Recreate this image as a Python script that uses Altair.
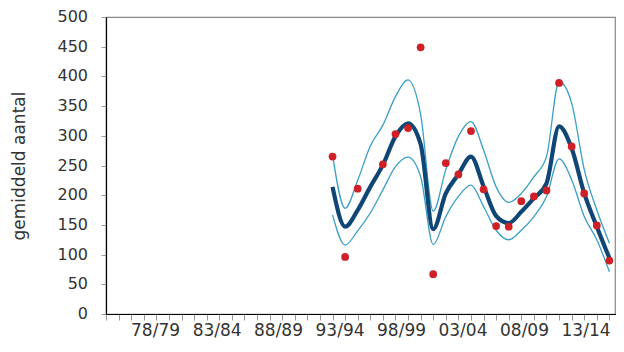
import altair as alt
import pandas as pd

seasons = ["74/75", "75/76", "76/77", "77/78", "78/79", "79/80", "80/81", "81/82",
           "82/83", "83/84", "84/85", "85/86", "86/87", "87/88", "88/89", "89/90",
           "90/91", "91/92", "92/93", "93/94", "94/95", "95/96", "96/97", "97/98",
           "98/99", "99/00", "00/01", "01/02", "02/03", "03/04", "04/05", "05/06",
           "06/07", "07/08", "08/09", "09/10", "10/11", "11/12", "12/13", "13/14",
           "14/15", "15/16"]
labelled = ["78/79", "83/84", "88/89", "93/94", "98/99", "03/04", "08/09", "13/14"]
label_shift = [-1.3, -2.6, -4.2, -5.6, -7.0, -8.5, -9.9, -11.3]
y_ticks = [0, 50, 100, 150, 200, 250, 300, 350, 400, 450, 500]

data_seasons = seasons[18:41]
observed = [265, 96, 211, None, 252, 303, 313, 449, 67, 254, 235, 308, 210,
            148, 147, 190, 198, 208, 389, 282, 203, 149, 90]
trend = [214, 147, 175, 214, 251, 299, 321, 286, 143, 203, 235, 265, 215,
         165, 153, 172, 195, 220, 316, 279, 203, 147, 94]
upper = [268, 178, 225, 283, 318, 366, 394, 336, 173, 243, 299, 324, 276,
         214, 188, 203, 231, 265, 391, 355, 243, 175, 119]
lower = [167, 116, 140, 170, 209, 248, 264, 231, 117, 164, 198, 217, 181,
         141, 125, 141, 164, 198, 261, 226, 164, 125, 71]

df = pd.DataFrame({
    "season": data_seasons,
    "idx": [seasons.index(s) for s in data_seasons],
    "observed": observed,
    "trend": trend,
    "upper": upper,
    "lower": lower,
})
ticks_df = pd.DataFrame({"tick": y_ticks, "text": [str(t) for t in y_ticks]})

label_list = "[" + ",".join(f"'{s}'" for s in labelled) + "]"
offset_cond = {
    "condition": [{"test": f"datum.label == '{s}'", "value": v}
                  for s, v in zip(labelled, label_shift)],
    "value": 0,
}

x_axis = alt.Axis(
    title=None,
    labelExpr=f"indexof({label_list}, datum.label) >= 0 ? datum.label : ''",
    labelAngle=0,
    labelOverlap=False,
    labelOffset=offset_cond,
    labelFont="DejaVu Sans",
    labelFontSize=17,
    labelColor="#333333",
    labelPadding=2,
    tickColor="#999999",
    tickSize=6,
    domainColor="#000000",
    domainWidth=1.2,
    grid=False,
)
x_scale = alt.Scale(type="point", domain=seasons, padding=0, range=[0, 516])

y_scale = alt.Scale(domain=[0, 500], nice=False, zero=True)
y_axis = alt.Axis(
    title="gemiddeld aantal",
    values=y_ticks,
    labels=False,
    titleFont="DejaVu Sans",
    titleFontSize=17,
    titleFontWeight="normal",
    titleColor="#333333",
    titlePadding=72,
    tickColor="#999999",
    tickSize=5,
    domainColor="#000000",
    domainWidth=1.2,
    grid=False,
)


def xenc():
    return alt.X("season:O", scale=x_scale, axis=x_axis)


def yenc(field):
    return alt.Y(f"{field}:Q", scale=y_scale, axis=y_axis)


base = alt.Chart(df)

band_up = base.mark_line(color="#3a9fc6", strokeWidth=1.3, interpolate="monotone").encode(
    x=xenc(), y=yenc("upper"), order="idx:Q")
band_lo = base.mark_line(color="#3a9fc6", strokeWidth=1.3, interpolate="monotone").encode(
    x=xenc(), y=yenc("lower"), order="idx:Q")
trend_line = base.mark_line(color="#0f4676", strokeWidth=4.2, interpolate="monotone").encode(
    x=xenc(), y=yenc("trend"), order="idx:Q")
points = base.transform_filter("isValid(datum.observed)").mark_circle(
    color="#cf2027", opacity=1, size=60).encode(
    x=xenc(), y=yenc("observed"))
y_labels = alt.Chart(ticks_df).mark_text(
    align="right", baseline="middle", dx=-18, font="DejaVu Sans",
    fontSize=16, color="#333333").encode(
    x=alt.value(0), y=yenc("tick"), text="text:N")

chart = alt.layer(band_up, band_lo, trend_line, points, y_labels).properties(
    width=509,
    height=297,
    autosize=alt.AutoSizeParams(type="none"),
    padding={"left": 98, "top": 9, "right": 1, "bottom": 30},
).configure_view(stroke="#888888", strokeWidth=1.2)

chart.save("out.html", embed_options={"renderer": "svg", "actions": False})
